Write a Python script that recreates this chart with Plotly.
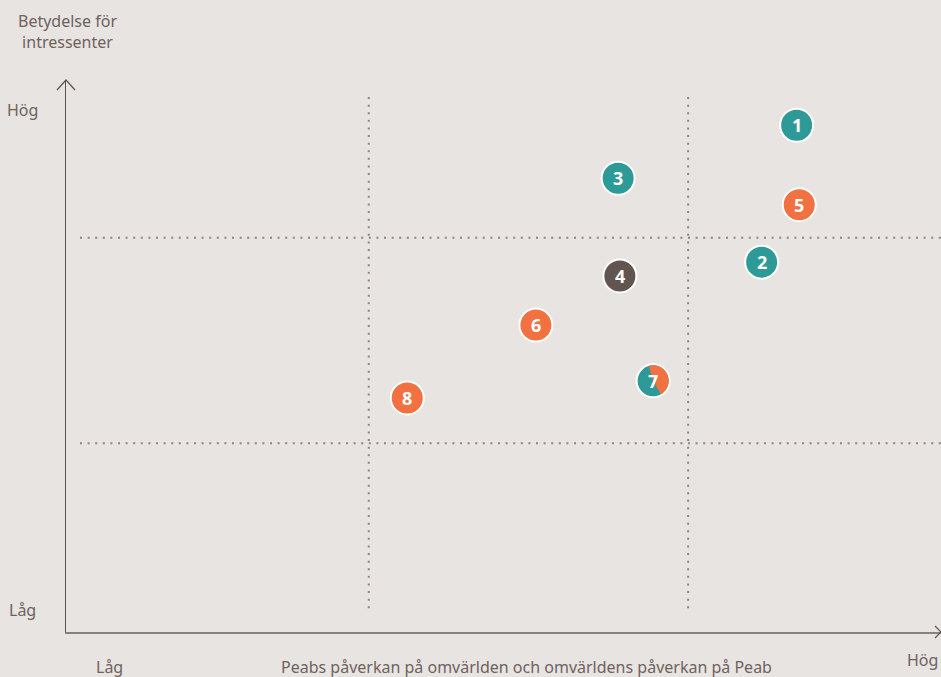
import plotly.graph_objects as go
import math

labels = ["1", "2", "3", "4", "5", "6", "7", "8"]
x_vals = [8.35, 7.95, 6.31, 6.33, 8.38, 5.37, 6.71, 3.90]
y_vals = [9.18, 6.70, 8.22, 6.45, 7.74, 5.56, 4.55, 4.24]
colors = ["#2e9a98", "#2e9a98", "#2e9a98", "#62554f", "#f27141", "#f27141", "#2e9a98", "#f27141"]
split_point = 6  # index of point drawn half teal / half orange

v_lines = [3.46, 7.11]
h_lines = [7.14, 3.42]

BG = "#e8e4e2"
TXT = "#6e625d"
FONT = "'Source Sans Pro', 'Noto Sans', Lato, sans-serif"

fig = go.Figure()
fig.add_trace(go.Scatter(
    x=x_vals, y=y_vals, mode="markers",
    marker=dict(size=33, color=colors, line=dict(color="white", width=2)),
    hoverinfo="skip", showlegend=False, cliponaxis=False))

shapes = []
for v in v_lines:
    shapes.append(dict(type="line", xref="x", yref="y", x0=v, x1=v, y0=0.43, y1=9.76,
                       line=dict(color="#8d8480", width=2, dash="2px,5.6px"), layer="below"))
for h in h_lines:
    shapes.append(dict(type="line", xref="x", yref="y", x0=0.16, x1=10, y0=h, y1=h,
                       line=dict(color="#8d8480", width=2, dash="2px,5.6px"), layer="below"))

# orange wedge on point 7
r = 15.6
a0, a1 = -60, 106
pts = []
for i in range(0, 41):
    a = math.radians(a0 + (a1 - a0) * i / 40)
    pts.append(f"{r*math.cos(a):.2f},{r*math.sin(a):.2f}")
path = "M 0,0 L " + " L ".join(pts) + " Z"
shapes.append(dict(type="path", xref="x", yref="y", xsizemode="pixel", ysizemode="pixel",
                   xanchor=x_vals[split_point], yanchor=y_vals[split_point], path=path,
                   fillcolor="#f27141", line=dict(width=0), layer="above"))

# axis arrowheads
shapes.append(dict(type="path", xref="paper", yref="paper", xsizemode="pixel", ysizemode="pixel",
                   xanchor=0, yanchor=1, path="M -9,-10 L 0,0 L 9,-10",
                   line=dict(color="#5e5350", width=1.2), layer="above"))
shapes.append(dict(type="path", xref="paper", yref="paper", xsizemode="pixel", ysizemode="pixel",
                   xanchor=1, yanchor=0, path="M -6,6 L 0,0 L -6,-6",
                   line=dict(color="#5e5350", width=1.2), layer="above"))

annotations = []
for lab, xv, yv in zip(labels, x_vals, y_vals):
    annotations.append(dict(x=xv, y=yv, xref="x", yref="y", text=f"<b>{lab}</b>", showarrow=False,
                            font=dict(color="white", size=18, family=FONT), xanchor="center", yanchor="middle"))

def txt(x, y, t, **kw):
    d = dict(x=x, y=y, xref="paper", yref="paper", text=t, showarrow=False,
             font=dict(color=TXT, size=16, family=FONT), xanchor="center", yanchor="middle")
    d.update(kw)
    annotations.append(d)

txt(0.002, 1.087, "Betydelse för<br>intressenter", align="center")
txt(-0.05, 0.946, "Hög")
txt(-0.05, 0.04, "Låg")
txt(0.05, -0.063, "Låg")
txt(0.526, -0.063, "Peabs påverkan på omvärlden och omvärldens påverkan på Peab")
txt(0.979, -0.051, "Hög")

fig.update_layout(
    width=941, height=677,
    margin=dict(l=66, r=0, t=80, b=45),
    paper_bgcolor=BG, plot_bgcolor=BG,
    shapes=shapes, annotations=annotations,
    xaxis=dict(range=[0, 10], showgrid=False, zeroline=False, showticklabels=False, ticks="",
               showline=True, linecolor="#8a807c", linewidth=2, fixedrange=True),
    yaxis=dict(range=[0, 10], showgrid=False, zeroline=False, showticklabels=False, ticks="",
               showline=True, linecolor="#5e5350", linewidth=1.2, fixedrange=True),
)

fig.write_html("out.html", config={"displayModeBar": False},
               post_script="document.body.style.margin='0';document.body.style.background='#e8e4e2';")
